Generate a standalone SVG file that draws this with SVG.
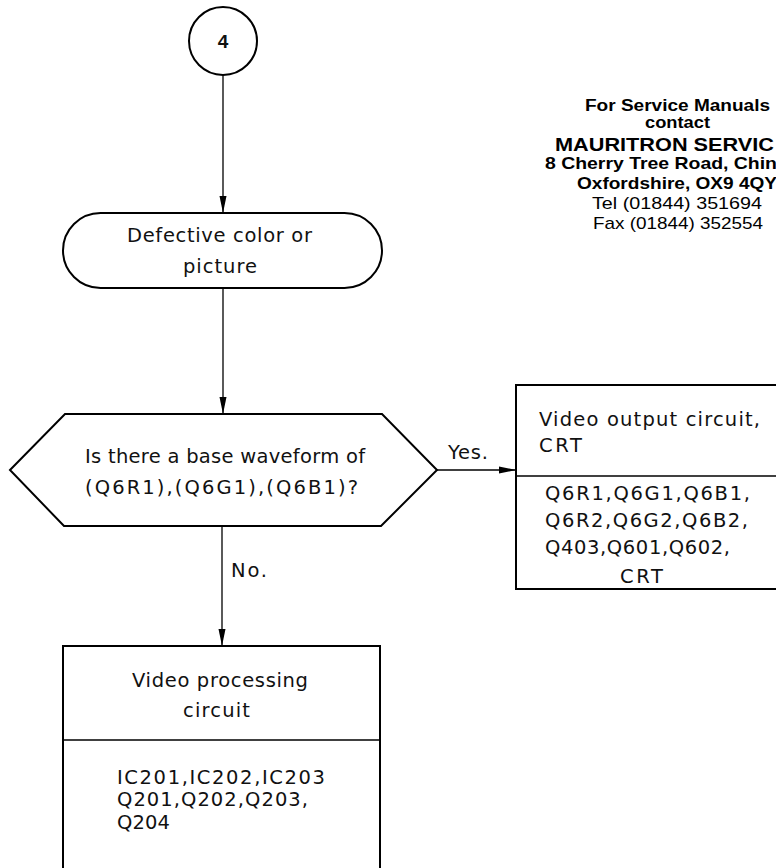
<svg xmlns="http://www.w3.org/2000/svg" width="776" height="868" viewBox="0 0 776 868">
<style>
.shape{fill:#fff;stroke:#000;stroke-width:2}
.div{fill:none;stroke:#000;stroke-width:1.6}
.conn{fill:none;stroke:#000;stroke-width:1.3}
.t{font-family:"DejaVu Sans","Liberation Sans",sans-serif;font-size:19.5px;fill:#111}
.n{font-family:"Liberation Sans","DejaVu Sans",sans-serif;font-size:19px;font-weight:bold;fill:#111}
.h{font-family:"Liberation Sans",Arial,sans-serif;font-weight:bold;fill:#000}
.r{font-family:"Liberation Sans",Arial,sans-serif;fill:#000}
</style>
<defs>
<marker id="arr" markerUnits="userSpaceOnUse" markerWidth="18" markerHeight="8" refX="17" refY="4" orient="auto">
<path d="M0,0.5 L17,4 L0,7.5 z" fill="#000"/>
</marker>
</defs>
<rect x="0" y="0" width="776" height="868" fill="#fff"/>

<g id="connectors">
<line class="conn" x1="223" y1="75" x2="223" y2="213" marker-end="url(#arr)"/>
<line class="conn" x1="223" y1="288" x2="223" y2="414" marker-end="url(#arr)"/>
<line class="conn" x1="437" y1="470" x2="516" y2="470" marker-end="url(#arr)"/>
<line class="conn" x1="222" y1="526" x2="222" y2="646" marker-end="url(#arr)"/>
<text class="t" x="448" y="459" textLength="40" lengthAdjust="spacing">Yes.</text>
<text class="t" x="231" y="577" textLength="36" lengthAdjust="spacing">No.</text>
</g>

<g id="node-start">
<circle class="shape" cx="223" cy="41" r="34"/>
<text class="n" x="223" y="48" text-anchor="middle">4</text>
</g>

<g id="node-defective">
<rect class="shape" x="63" y="213" width="319" height="75" rx="37.5" ry="37.5"/>
<text class="t" x="127" y="242" textLength="185" lengthAdjust="spacing">Defective color or</text>
<text class="t" x="183" y="273" textLength="74" lengthAdjust="spacing">picture</text>
</g>

<g id="node-decision">
<polygon class="shape" points="10,470 65,414 382,414 437,470 381,526 64,526"/>
<text class="t" x="85" y="463" textLength="280" lengthAdjust="spacing">Is there a base waveform of</text>
<text class="t" x="85" y="494" textLength="273" lengthAdjust="spacing">(Q6R1),(Q6G1),(Q6B1)?</text>
</g>

<g id="node-video-output">
<rect class="shape" x="516" y="385" width="280" height="204"/>
<line class="div" x1="516" y1="476" x2="796" y2="476"/>
<text class="t" x="539" y="426" textLength="221" lengthAdjust="spacing">Video output circuit,</text>
<text class="t" x="539" y="452" textLength="43" lengthAdjust="spacing">CRT</text>
<text class="t" x="545" y="500" textLength="205" lengthAdjust="spacing">Q6R1,Q6G1,Q6B1,</text>
<text class="t" x="545" y="527" textLength="203" lengthAdjust="spacing">Q6R2,Q6G2,Q6B2,</text>
<text class="t" x="545" y="554" textLength="185" lengthAdjust="spacing">Q403,Q601,Q602,</text>
<text class="t" x="620" y="583" textLength="43" lengthAdjust="spacing">CRT</text>
</g>

<g id="node-video-processing">
<rect class="shape" x="63" y="646" width="317" height="240"/>
<line class="div" x1="63" y1="740" x2="380" y2="740"/>
<text class="t" x="132" y="687" textLength="176" lengthAdjust="spacing">Video processing</text>
<text class="t" x="183" y="717" textLength="67" lengthAdjust="spacing">circuit</text>
<text class="t" x="117" y="784" textLength="208" lengthAdjust="spacing">IC201,IC202,IC203</text>
<text class="t" x="117" y="806" textLength="191" lengthAdjust="spacing">Q201,Q202,Q203,</text>
<text class="t" x="117" y="829" textLength="53" lengthAdjust="spacing">Q204</text>
</g>

<g id="service-note">
<text class="h" x="585" y="111" font-size="16" textLength="185" lengthAdjust="spacingAndGlyphs">For Service Manuals</text>
<text class="h" x="645" y="128" font-size="16" textLength="65" lengthAdjust="spacingAndGlyphs">contact</text>
<text class="h" x="555" y="151" font-size="19" textLength="219" lengthAdjust="spacingAndGlyphs">MAURITRON SERVIC</text>
<text class="h" x="545" y="169" font-size="17" textLength="232" lengthAdjust="spacingAndGlyphs">8 Cherry Tree Road, Chin</text>
<text class="h" x="577" y="189" font-size="17" textLength="200" lengthAdjust="spacingAndGlyphs">Oxfordshire, OX9 4QY</text>
<text class="r" x="592" y="209" font-size="17" textLength="170" lengthAdjust="spacingAndGlyphs">Tel (01844) 351694</text>
<text class="r" x="593" y="229" font-size="17" textLength="170" lengthAdjust="spacingAndGlyphs">Fax (01844) 352554</text>
</g>
</svg>
